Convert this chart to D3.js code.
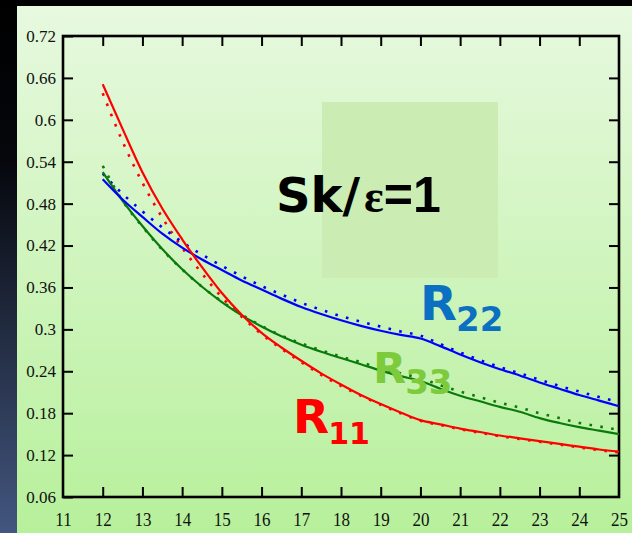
<!DOCTYPE html>
<html lang="en">
<head>
  <meta charset="UTF-8">
  <title>R11 R22 R33, Sk/ε=1</title>
  <script src="https://d3js.org/d3.v7.min.js"></script>
  <style>
    body { margin: 0; padding: 0; background: #000; }
    svg { display: block; }
    .axis text { font-family: "Liberation Serif", "Times New Roman", serif; font-size: 17px; fill: #111; }
  </style>
</head>
<body>
  <script>
    // abscissa shared by all curves
    const xs = [12, 12.5, 13, 13.5, 14, 14.5, 15, 15.5, 16, 16.5, 17, 17.5, 18, 18.5, 19, 19.5,
                20, 20.5, 21, 21.5, 22, 22.5, 23, 23.5, 24, 24.5, 25];

    const r11Solid  = [0.651, 0.587, 0.525, 0.473, 0.429, 0.389, 0.352, 0.321, 0.295, 0.274, 0.255, 0.237, 0.221, 0.206,
                       0.193, 0.181, 0.170, 0.164, 0.158, 0.153, 0.148, 0.144, 0.140, 0.136, 0.132, 0.128, 0.125];
    const r11Dotted = [0.638, 0.569, 0.510, 0.460, 0.417, 0.380, 0.346, 0.318, 0.293, 0.272, 0.253, 0.235, 0.219, 0.205,
                       0.192, 0.180, 0.169, 0.163, 0.157, 0.152, 0.147, 0.143, 0.139, 0.135, 0.131, 0.127, 0.124];
    const r22Solid  = [0.515, 0.486, 0.461, 0.437, 0.417, 0.400, 0.385, 0.370, 0.357, 0.344, 0.332, 0.322, 0.313, 0.305,
                       0.298, 0.292, 0.287, 0.276, 0.264, 0.253, 0.243, 0.234, 0.224, 0.215, 0.206, 0.198, 0.190];
    const r22Dotted = [0.523, 0.494, 0.469, 0.446, 0.425, 0.407, 0.391, 0.376, 0.362, 0.350, 0.338, 0.328, 0.319, 0.311,
                       0.304, 0.297, 0.291, 0.279, 0.267, 0.256, 0.246, 0.237, 0.228, 0.219, 0.211, 0.203, 0.196];
    const r33Solid  = [0.525, 0.484, 0.448, 0.415, 0.386, 0.361, 0.339, 0.320, 0.304, 0.290, 0.278, 0.268, 0.259, 0.250,
                       0.241, 0.233, 0.226, 0.215, 0.205, 0.197, 0.189, 0.182, 0.173, 0.166, 0.160, 0.155, 0.150];
    const r33Dotted = [0.534, 0.484, 0.447, 0.414, 0.386, 0.361, 0.340, 0.321, 0.305, 0.291, 0.280, 0.270, 0.261, 0.253,
                       0.244, 0.237, 0.230, 0.220, 0.211, 0.203, 0.195, 0.188, 0.180, 0.173, 0.166, 0.161, 0.156];

    const xTicks = [11, 12, 13, 14, 15, 16, 17, 18, 19, 20, 21, 22, 23, 24, 25];
    const yTicks = [0.06, 0.12, 0.18, 0.24, 0.3, 0.36, 0.42, 0.48, 0.54, 0.6, 0.66, 0.72];
    const yTickLabels = ["0.06", "0.12", "0.18", "0.24", "0.3", "0.36", "0.42", "0.48", "0.54", "0.6", "0.66", "0.72"];

    const width = 632, height = 533;
    const plotLeft = 63, plotRight = 619, plotTop = 36, plotBottom = 497;

    const x = d3.scaleLinear().domain([11, 25]).range([plotLeft, plotRight]);
    const y = d3.scaleLinear().domain([0.06, 0.72]).range([plotBottom, plotTop]);

    const svg = d3.select("body").append("svg")
        .attr("width", width)
        .attr("height", height);

    const defs = svg.append("defs");

    const panelGrad = defs.append("linearGradient")
        .attr("id", "panel").attr("x1", 0).attr("y1", 0).attr("x2", 0).attr("y2", 1);
    panelGrad.append("stop").attr("offset", "0%").attr("stop-color", "#e7f9df");
    panelGrad.append("stop").attr("offset", "100%").attr("stop-color", "#b7f09b");

    const stripGrad = defs.append("linearGradient")
        .attr("id", "strip").attr("x1", 0).attr("y1", 0).attr("x2", 0).attr("y2", 1);
    stripGrad.append("stop").attr("offset", "0%").attr("stop-color", "#000");
    stripGrad.append("stop").attr("offset", "30%").attr("stop-color", "#05070c");
    stripGrad.append("stop").attr("offset", "100%").attr("stop-color", "#43567f");

    // backgrounds
    svg.append("rect").attr("width", width).attr("height", height).attr("fill", "#000");
    svg.append("rect").attr("x", 0).attr("y", 0).attr("width", 17).attr("height", height).attr("fill", "url(#strip)");
    svg.append("rect").attr("x", 17).attr("y", 6).attr("width", width - 17).attr("height", height - 6)
        .attr("fill", "url(#panel)");

    // shaded box behind the title
    svg.append("rect")
        .attr("x", 322).attr("y", 102).attr("width", 176).attr("height", 176)
        .attr("fill", "#cbecb2");

    // axes: inward ticks on all four sides
    const inner = xTicks.slice(1, -1);
    svg.append("g").attr("class", "axis")
        .attr("transform", `translate(0,${plotBottom})`)
        .call(d3.axisBottom(x).tickValues(xTicks).tickSize(-10).tickSizeOuter(0).tickPadding(15))
        .call(g => g.select(".domain").remove())
        .call(g => g.selectAll(".tick line").attr("stroke-width", 2)
            .attr("display", d => inner.includes(d) ? null : "none"))
        .call(g => g.selectAll(".tick text").attr("dy", null).attr("y", 0)
            .attr("transform", "translate(0,29) scale(1,1.16)"));

    svg.append("g").attr("class", "axis")
        .attr("transform", `translate(0,${plotTop})`)
        .call(d3.axisTop(x).tickValues(inner).tickSize(-10).tickSizeOuter(0).tickFormat(""))
        .call(g => g.select(".domain").remove())
        .call(g => g.selectAll(".tick line").attr("stroke-width", 2));

    svg.append("g").attr("class", "axis")
        .attr("transform", `translate(${plotLeft},0)`)
        .call(d3.axisLeft(y).tickValues(yTicks).tickSize(-10).tickSizeOuter(0).tickPadding(7)
            .tickFormat((d, i) => yTickLabels[i]))
        .call(g => g.select(".domain").remove())
        .call(g => g.selectAll(".tick line").attr("stroke-width", 2));

    svg.append("g").attr("class", "axis")
        .attr("transform", `translate(${plotRight},0)`)
        .call(d3.axisRight(y).tickValues(yTicks.slice(1, -1)).tickSize(-10).tickSizeOuter(0).tickFormat(""))
        .call(g => g.select(".domain").remove())
        .call(g => g.selectAll(".tick line").attr("stroke-width", 2));

    svg.append("rect")
        .attr("x", plotLeft).attr("y", plotTop)
        .attr("width", plotRight - plotLeft).attr("height", plotBottom - plotTop)
        .attr("fill", "none").attr("stroke", "#000").attr("stroke-width", 2.6);

    // curves
    const line = d3.line()
        .x((d, i) => x(xs[i]))
        .y(d => y(d))
        .curve(d3.curveMonotoneX);

    const series = [
      { vals: r11Dotted, color: "#ff0000", dotted: true },
      { vals: r22Dotted, color: "#0000ff", dotted: true },
      { vals: r33Dotted, color: "#0a7a0a", dotted: true },
      { vals: r33Solid,  color: "#0a7a0a", dotted: false },
      { vals: r22Solid,  color: "#0000ff", dotted: false },
      { vals: r11Solid,  color: "#ff0000", dotted: false }
    ];

    svg.append("g")
      .selectAll("path")
      .data(series)
      .join("path")
        .attr("d", d => line(d.vals))
        .attr("fill", "none")
        .attr("stroke", d => d.color)
        .attr("stroke-width", d => d.dotted ? 2.6 : 2.2)
        .attr("stroke-dasharray", d => d.dotted ? "2.6 8.4" : null);

    // curve labels
    const labels = [
      { main: "R", sub: "22", x: 420, y: 320, size: 48, subSize: 34, color: "#0b6fc2" },
      { main: "R", sub: "33", x: 373, y: 383, size: 43, subSize: 34, color: "#7dcb3c" },
      { main: "R", sub: "11", x: 293, y: 433, size: 47, subSize: 30, color: "#ff0000" }
    ];

    labels.forEach(l => {
      const t = svg.append("text")
          .attr("x", l.x).attr("y", l.y)
          .attr("font-family", "'DejaVu Sans', Verdana, sans-serif")
          .attr("font-weight", "bold")
          .attr("font-size", l.size)
          .attr("fill", l.color);
      t.append("tspan").text(l.main);
      t.append("tspan").attr("dy", 11).attr("dx", -1).attr("font-size", l.subSize).text(l.sub);
    });

    // title
    const title = svg.append("text")
        .attr("x", 276).attr("y", 212)
        .attr("font-family", "'DejaVu Sans', Verdana, sans-serif")
        .attr("font-weight", "bold")
        .attr("font-size", 48)
        .attr("fill", "#000");
    title.append("tspan").text("Sk/");
    title.append("tspan").attr("font-family", "'Liberation Serif', 'Times New Roman', serif")
        .attr("font-size", 46).attr("dx", 4).text("ε");
    title.append("tspan").attr("font-family", "'Liberation Sans', Arial, sans-serif")
        .attr("font-size", 50).text("=1");
  </script>
</body>
</html>
